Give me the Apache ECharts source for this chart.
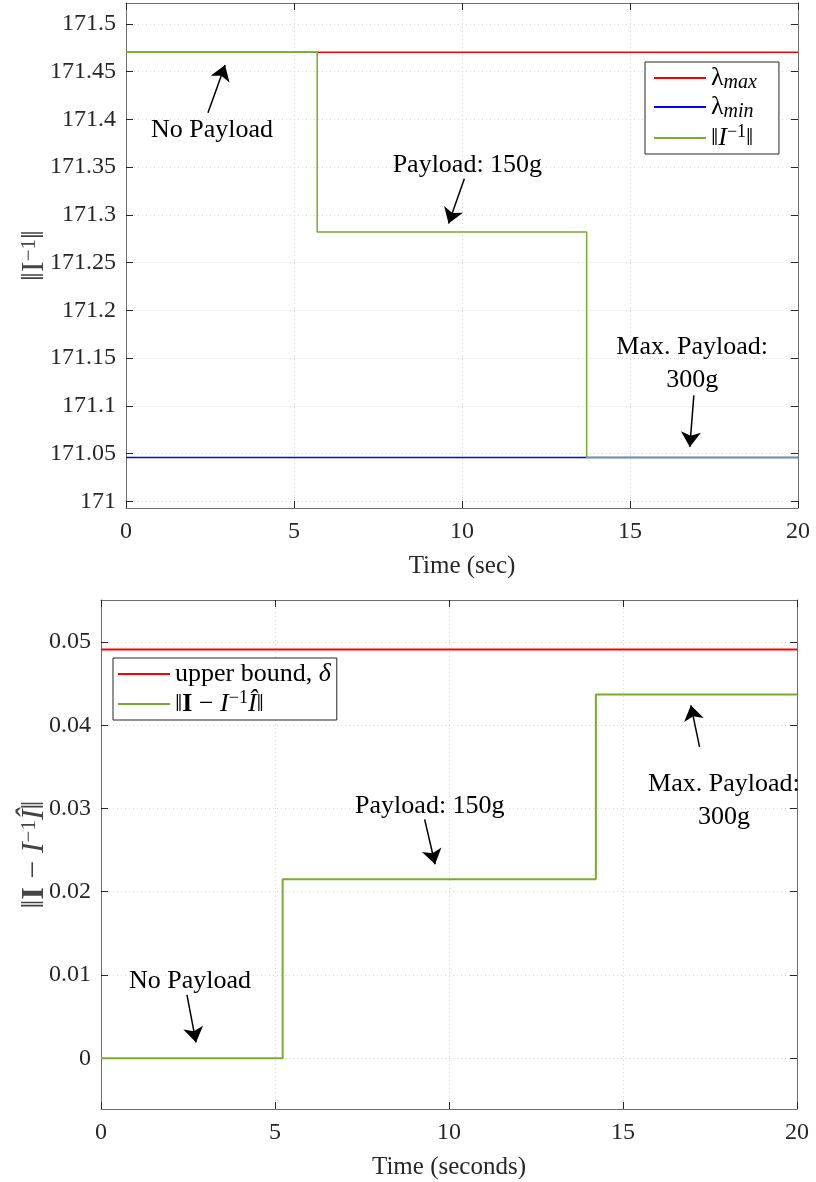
<!DOCTYPE html>
<html>
<head>
<meta charset="utf-8">
<title>Inertia estimate</title>
<script src="https://cdn.jsdelivr.net/npm/echarts@6/dist/echarts.min.js"></script>
<style>
  html, body { margin: 0; padding: 0; background: #fff; }
  #main { width: 816px; height: 1182px; }
</style>
</head>
<body>
<div id="main"></div>
<script>
// ---- top panel: ||I^-1|| against eigenvalue bounds ----
var topTime = [0, 5.69, 5.69, 13.71, 13.71, 20];
var topNorm = [171.4703, 171.4703, 171.282, 171.282, 171.0458, 171.0458];
var lamMaxTime = [0, 20];
var lamMax = [171.4703, 171.4703];
var lamMinTime = [0, 20];
var lamMin = [171.0458, 171.0458];
var topTicks = [171, 171.05, 171.1, 171.15, 171.2, 171.25, 171.3, 171.35, 171.4, 171.45, 171.5];

// ---- bottom panel: ||I - I^-1 Ihat|| against delta ----
var botTime = [0, 5.22, 5.22, 14.22, 14.22, 20];
var botErr = [0, 0, 0.0215, 0.0215, 0.0437, 0.0437];
var boundTime = [0, 20];
var bound = [0.0491, 0.0491];
var botTicks = [0, 0.01, 0.02, 0.03, 0.04, 0.05];

// annotation text + arrows (data coords)
var topNotes = [
  { text: 'No Payload', at: [2.56, 171.389], from: [2.44, 171.407], to: [2.95, 171.457] },
  { text: 'Payload: 150g', at: [10.16, 171.352], from: [10.07, 171.338], to: [9.6, 171.291] },
  { text: 'Max. Payload:\n300g', at: [16.85, 171.144], from: [16.9, 171.111], to: [16.78, 171.057] }
];
var botNotes = [
  { text: 'No Payload', at: [2.56, 0.00925], from: [2.47, 0.0076], to: [2.73, 0.0019] },
  { text: 'Payload: 150g', at: [9.45, 0.0303], from: [9.3, 0.0287], to: [9.6, 0.0233] },
  { text: 'Max. Payload:\n300g', at: [17.9, 0.0309], from: [17.2, 0.0374], to: [16.95, 0.0424] }
];

var FONT = 'Liberation Serif';
var INK = '#262626';
var RED = '#ff0000', BLUE = '#0000ff', GREEN = '#77ac30';

function pts(xs, ys) {
  return xs.map(function (x, i) { return [x, ys[i]]; });
}

var mathRich = {
  m: { fontFamily: FONT, fontSize: 26, color: '#000', lineHeight: 30 },
  i: { fontFamily: FONT, fontSize: 26, color: '#000', fontStyle: 'italic', lineHeight: 30 },
  b: { fontFamily: FONT, fontSize: 26, color: '#000', fontWeight: 'bold', lineHeight: 30 },
  s: { fontFamily: FONT, fontSize: 20, color: '#000', fontStyle: 'italic', lineHeight: 16, verticalAlign: 'bottom' },
  u: { fontFamily: FONT, fontSize: 18, color: '#000', lineHeight: 16, verticalAlign: 'top' }
};

var legendText = {
  lmax: '{m|λ}{s|max}',
  lmin: '{m|λ}{s|min}',
  ninv: '{m|‖}{i|I}{u|−1}{m|‖}',
  delta: '{m|upper bound, }{i|δ}',
  err: '{m|‖}{b|I}{m| − }{i|I}{u|−1}{i|Î}{m|‖}'
};

function notesMarks(notes) {
  return {
    markPoint: {
      silent: true,
      symbol: 'circle',
      symbolSize: 0,
      label: {
        show: true, position: 'inside', formatter: function (p) { return p.name; },
        fontFamily: FONT, fontSize: 26, color: '#000', lineHeight: 33
      },
      data: notes.map(function (n) { return { name: n.text, coord: n.at }; })
    },
    markLine: {
      silent: true,
      symbol: ['none', 'arrow'],
      symbolSize: 15,
      label: { show: false },
      lineStyle: { color: '#000', width: 1.5, type: 'solid' },
      data: notes.map(function (n) { return [{ coord: n.from }, { coord: n.to }]; })
    }
  };
}

function xAxes(grid, name) {
  var common = {
    gridIndex: grid, type: 'value', min: 0, max: 20, interval: 5,
    axisLine: { show: true, onZero: false, lineStyle: { color: '#6e6e6e', width: 1 } },
    axisTick: { show: true, inside: true, length: 7, lineStyle: { color: INK } }
  };
  return [
    Object.assign({}, common, {
      position: 'bottom',
      axisLabel: { fontFamily: FONT, fontSize: 24, color: INK, margin: 12 },
      splitLine: { show: true, lineStyle: { color: '#d9d9d9', type: [1, 3] } },
      name: name, nameLocation: 'middle', nameGap: 46,
      nameTextStyle: { fontFamily: FONT, fontSize: 25, color: INK }
    }),
    Object.assign({}, common, {
      position: 'top',
      axisLabel: { show: false },
      splitLine: { show: false }
    })
  ];
}

function yAxes(grid, min, max, ticks, name, nameGap) {
  var common = {
    gridIndex: grid, type: 'value', min: min, max: max,
    axisLine: { show: true, onZero: false, lineStyle: { color: '#6e6e6e', width: 1 } },
    axisTick: { show: true, inside: true, length: 7, customValues: ticks, lineStyle: { color: INK } }
  };
  return [
    Object.assign({}, common, {
      position: 'left',
      axisLabel: { fontFamily: FONT, fontSize: 24, color: INK, margin: 10, customValues: ticks },
      splitLine: { show: true, lineStyle: { color: '#d9d9d9', type: [1, 3] } },
      name: name, nameLocation: 'middle', nameGap: nameGap, nameMoveOverlap: false,
      nameTextStyle: { rich: {
        m: { fontFamily: FONT, fontSize: 32, color: '#444' },
        i: { fontFamily: FONT, fontSize: 32, color: '#444', fontStyle: 'italic' },
        b: { fontFamily: FONT, fontSize: 32, color: '#444', fontWeight: 'bold' },
        u: { fontFamily: FONT, fontSize: 21, color: '#444', verticalAlign: 'top', lineHeight: 18 }
      } }
    }),
    Object.assign({}, common, {
      position: 'right',
      axisLabel: { show: false },
      splitLine: { show: false }
    })
  ];
}

var legendBase = {
  orient: 'vertical',
  backgroundColor: '#fff',
  borderColor: INK,
  borderWidth: 1,
  borderRadius: 0,
  icon: 'rect',
  itemWidth: 52,
  itemHeight: 2,
  padding: [3, 22, 3, 9],
  formatter: function (n) { return legendText[n]; },
  textStyle: { rich: mathRich },
  selectedMode: false
};

var myChart = echarts.init(document.getElementById('main'), null, { renderer: 'canvas' });

var option = {
  animation: false,
  backgroundColor: '#fff',
  grid: [
    { left: 126, top: 3, width: 672, height: 505, outerBoundsMode: 'none' },
    { left: 101, top: 600, width: 696, height: 509, outerBoundsMode: 'none' }
  ],
  legend: [
    Object.assign({}, legendBase, { left: 645, top: 62, itemGap: 1, data: ['lmax', 'lmin', 'ninv'] }),
    Object.assign({}, legendBase, { left: 113, top: 658, itemGap: 2, padding: [3, 6, 3, 5], data: ['delta', 'err'] })
  ],
  xAxis: xAxes(0, 'Time (sec)').concat(xAxes(1, 'Time (seconds)')),
  yAxis: yAxes(0, 170.993, 171.522, topTicks, '{m|‖}{m|I}{u|−1}{m|‖}', 75)
    .concat(yAxes(1, -0.0061, 0.05505, botTicks, '{m|‖}{b|I}{m| − }{i|I}{u|−1}{i|Î}{m|‖}', 50)),
  series: [
    { name: 'lmax', type: 'line', xAxisIndex: 0, yAxisIndex: 0, symbol: 'none',
      data: pts(lamMaxTime, lamMax), lineStyle: { color: RED, width: 1.5 }, itemStyle: { color: RED } },
    { name: 'lmin', type: 'line', xAxisIndex: 0, yAxisIndex: 0, symbol: 'none',
      data: pts(lamMinTime, lamMin), lineStyle: { color: BLUE, width: 1.5 }, itemStyle: { color: BLUE } },
    Object.assign({ name: 'ninv', type: 'line', xAxisIndex: 0, yAxisIndex: 0, symbol: 'none',
      data: pts(topTime, topNorm), lineStyle: { color: GREEN, width: 1.5 }, itemStyle: { color: GREEN } },
      notesMarks(topNotes)),
    { name: 'delta', type: 'line', xAxisIndex: 2, yAxisIndex: 2, symbol: 'none',
      data: pts(boundTime, bound), lineStyle: { color: RED, width: 2 }, itemStyle: { color: RED } },
    Object.assign({ name: 'err', type: 'line', xAxisIndex: 2, yAxisIndex: 2, symbol: 'none',
      data: pts(botTime, botErr), lineStyle: { color: GREEN, width: 2 }, itemStyle: { color: GREEN } },
      notesMarks(botNotes))
  ]
};

myChart.setOption(option);
</script>
</body>
</html>
